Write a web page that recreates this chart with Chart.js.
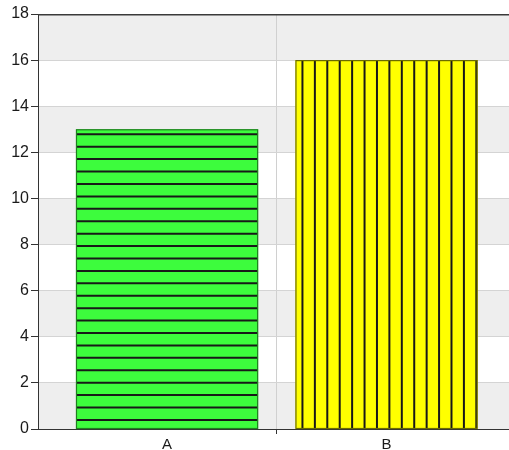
<!DOCTYPE html>
<html>
<head>
<meta charset="utf-8">
<script src="https://cdn.jsdelivr.net/npm/chart.js@4.4.1/dist/chart.umd.min.js"></script>
<style>
  html, body { margin: 0; padding: 0; background: #ffffff; }
  #wrap { width: 509px; height: 450px; }
</style>
</head>
<body>
<div id="wrap"><canvas id="c" width="509" height="450"></canvas></div>
<script>
const categories = ['A', 'B'];
const values = [13, 16];
const yTicks = [0, 2, 4, 6, 8, 10, 12, 14, 16, 18];
const hatch = ['h', 'v'];

const fillColors = ['#3dfc3d', '#ffff00'];
const edgeColors = ['#1f7f1f', '#6b6b00'];

const bandPlugin = {
  id: 'bands',
  beforeDraw(chart) {
    const { ctx, chartArea } = chart;
    const y = chart.scales.y;
    ctx.save();
    ctx.fillStyle = '#eeeeee';
    for (let i = 0; i < yTicks.length - 1; i++) {
      if (i % 2 === 0) {
        const top = y.getPixelForValue(yTicks[i + 1]);
        const bot = y.getPixelForValue(yTicks[i]);
        ctx.fillRect(chartArea.left, top, chartArea.right - chartArea.left, bot - top);
      }
    }
    ctx.restore();
  },
  afterDraw(chart) {
    const { ctx, chartArea } = chart;
    ctx.save();
    ctx.strokeStyle = '#3a3a3a';
    ctx.lineWidth = 1.5;
    ctx.beginPath();
    ctx.moveTo(chartArea.left, chartArea.top + 0.75);
    ctx.lineTo(chartArea.right, chartArea.top + 0.75);
    ctx.stroke();
    ctx.restore();
  }
};

const hatchPlugin = {
  id: 'hatch',
  afterDatasetsDraw(chart) {
    const { ctx } = chart;
    const meta = chart.getDatasetMeta(0);
    const step = 12.42;
    meta.data.forEach((el, i) => {
      const p = el.getProps(['x', 'y', 'base', 'width'], true);
      const left = p.x - p.width / 2, right = p.x + p.width / 2;
      const top = Math.min(p.y, p.base), bottom = Math.max(p.y, p.base);
      ctx.save();
      ctx.beginPath();
      ctx.rect(left, top, right - left, bottom - top);
      ctx.clip();
      ctx.strokeStyle = '#181818';
      ctx.lineWidth = 2;
      ctx.beginPath();
      if (hatch[i] === 'h') {
        for (let yy = top + 5; yy < bottom; yy += step) {
          ctx.moveTo(left, yy); ctx.lineTo(right, yy);
        }
      } else {
        for (let xx = left + 7; xx < right; xx += step) {
          ctx.moveTo(xx, top); ctx.lineTo(xx, bottom);
        }
      }
      ctx.stroke();
      ctx.restore();
      ctx.save();
      ctx.strokeStyle = edgeColors[i];
      ctx.lineWidth = 1.2;
      ctx.strokeRect(left + 0.5, top + 0.5, right - left - 1, bottom - top - 0.5);
      ctx.restore();
    });
  }
};

new Chart(document.getElementById('c'), {
  type: 'bar',
  data: {
    datasets: [{
      data: values.map((v, i) => ({ x: i, y: v })),
      backgroundColor: fillColors,
      borderWidth: 0,
      categoryPercentage: 0.83,
      barPercentage: 1.0
    }]
  },
  plugins: [bandPlugin, hatchPlugin],
  options: {
    responsive: false,
    animation: false,
    devicePixelRatio: 1,
    layout: { padding: { top: 14, right: 0, left: 0, bottom: 0 } },
    plugins: { legend: { display: false }, tooltip: { enabled: false } },
    scales: {
      x: {
        type: 'linear',
        offset: false,
        min: -0.588,
        max: 1.558,
        afterBuildTicks: (s) => { s.ticks = categories.map((c, i) => ({ value: i })); },
        afterFit: (s) => { s.height = 21; },
        ticks: {
          callback: (v) => categories[v] ?? '',
          color: '#1a1a1a',
          font: { family: 'Liberation Sans', size: 15 },
          padding: 2,
          maxRotation: 0,
          autoSkip: false
        },
        grid: {
          offset: true,
          color: (ctx) => ctx.index === 1 ? '#d0d0d0' : 'rgba(0,0,0,0)',
          tickColor: (ctx) => ctx.index === 1 ? '#333333' : 'rgba(0,0,0,0)',
          tickLength: 5,
          lineWidth: 1
        },
        border: { display: true, color: '#333333', width: 1 }
      },
      y: {
        min: 0,
        max: 18,
        afterBuildTicks: (s) => { s.ticks = yTicks.map(v => ({ value: v })); },
        afterFit: (s) => { s.width = 38; },
        ticks: {
          color: '#1a1a1a',
          font: { family: 'Liberation Sans', size: 16 },
          padding: 2
        },
        grid: {
          color: '#d4d4d4',
          tickColor: '#333333',
          tickLength: 7,
          lineWidth: 1
        },
        border: { display: true, color: '#333333', width: 1 }
      }
    }
  }
});
</script>
</body>
</html>
